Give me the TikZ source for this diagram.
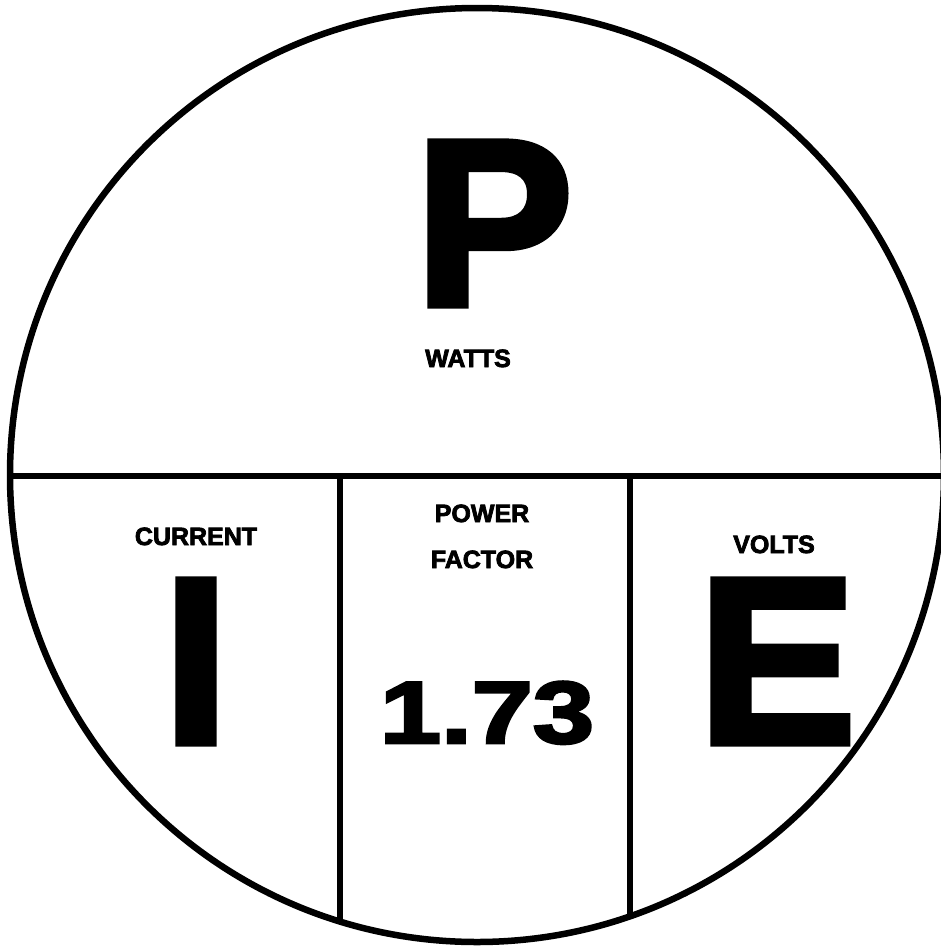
\documentclass[tikz,border=0pt]{standalone}
\usepackage{fontspec}
\newfontfamily\heavyfont{Liberation Sans Bold}[FakeBold=3]
\usepackage{tikz}
\usetikzlibrary{positioning}

\begin{document}
\begin{tikzpicture}[
  x=1pt, y=-1pt,
  rule/.style={line width=6.5pt},
  big/.style={anchor=base, inner sep=0pt, text height=170pt, text depth=0pt, font=\heavyfont\fontsize{237}{237}\selectfont},
  num/.style={anchor=base, inner sep=0pt, text depth=0pt, font=\heavyfont\fontsize{88}{88}\selectfont},
  lbl/.style={anchor=base, inner sep=0pt, align=center, font=\heavyfont\fontsize{25}{46}\selectfont},
]
\useasboundingbox (0,0) rectangle (941,946);
\coordinate (c) at (477,475);
% wheel and its dividers
\draw[rule] (c) circle[radius=467];
\begin{scope}
  \clip (c) circle[radius=467];
  \draw[rule] (0,476) -- (960,476);
  \draw[rule] (340,476) -- (340,960);
  \draw[rule] (630,476) -- (630,960);
\end{scope}
% top half
\node[big] (watt) at (494,305) {P};
\node[lbl] (wattlbl) at (468,367) {WATTS};
% bottom thirds
\node[lbl] (amplbl) at (196,545) {CURRENT};
\node[big] (amp) at (196,743) {I};
\node[lbl] (pflbl) at (482,568) {POWER\\FACTOR};
\node[num, xscale=1.25] (pf) at (487,743) {1.73};
\node[lbl] (voltlbl) at (774,553) {VOLTS};
\node[big] (volt) at (777,743) {E};
\end{tikzpicture}
\end{document}
